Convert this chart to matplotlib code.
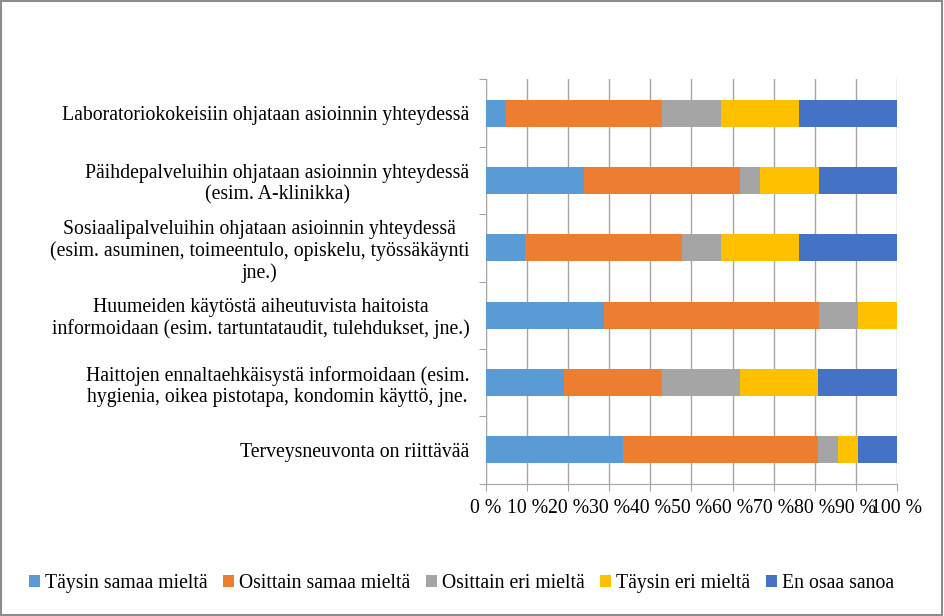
import numpy as np
import matplotlib
matplotlib.use('Agg')
import matplotlib.pyplot as plt
from matplotlib.patches import Rectangle

plt.rcParams['font.family'] = ['Liberation Serif', 'DejaVu Serif']

# categories, top to bottom
labels = [
    'Laboratoriokokeisiin ohjataan asioinnin yhteydessä',
    'Päihdepalveluihin ohjataan asioinnin yhteydessä\n(esim. A-klinikka)',
    'Sosiaalipalveluihin ohjataan asioinnin yhteydessä\n(esim. asuminen, toimeentulo, opiskelu, työssäkäynti\njne.)',
    'Huumeiden käytöstä aiheutuvista haitoista\ninformoidaan (esim. tartuntataudit, tulehdukset, jne.)',
    'Haittojen ennaltaehkäisystä informoidaan (esim.\nhygienia, oikea pistotapa, kondomin käyttö, jne.',
    'Terveysneuvonta on riittävää',
]
series = ['Täysin samaa mieltä', 'Osittain samaa mieltä', 'Osittain eri mieltä',
          'Täysin eri mieltä', 'En osaa sanoa']
# percent shares
taysin_samaa = [4.8, 23.8, 9.5, 28.6, 19.0, 33.3]
osittain_samaa = [38.1, 38.1, 38.1, 52.4, 23.8, 47.6]
osittain_eri = [14.3, 4.8, 9.5, 9.5, 19.0, 4.8]
taysin_eri = [19.0, 14.3, 19.0, 9.5, 19.1, 4.8]
en_osaa = [23.8, 19.0, 23.9, 0.0, 19.1, 9.5]
colors = ['#5B9BD5', '#ED7D31', '#A5A5A5', '#FFC000', '#4472C4']

fs = 14.2

fig = plt.figure(figsize=(9.44, 6.16), dpi=100)
ax = fig.add_axes([0.5148, 0.2149, 0.4354, 0.6561])

y = np.arange(len(labels))
left = np.zeros(len(labels))
for vals, name, c in zip([taysin_samaa, osittain_samaa, osittain_eri, taysin_eri, en_osaa],
                         series, colors):
    ax.barh(y, vals, left=left, height=0.4, color=c, label=name, zorder=3)
    left += np.array(vals)

ax.set_ylim(len(labels) - 0.5, -0.5)
ax.set_xlim(0, 100)
ax.set_xticks(np.arange(0, 101, 10))
ax.set_xticklabels(['%d %%' % v for v in range(0, 101, 10)], fontsize=fs)
ax.xaxis.grid(True, color='#A6A6A6', linewidth=1, zorder=0)

ax.set_yticks(np.arange(-0.5, len(labels), 1))
ax.set_yticklabels([])
ax.set_yticks(y, minor=True)
ax.set_yticklabels(labels, minor=True, fontsize=fs)
for t in ax.get_yticklabels(minor=True):
    t.set_multialignment('center')
    t.set_linespacing(1.15)
ax.tick_params(axis='y', which='minor', length=0, pad=12)
ax.tick_params(axis='y', which='major', length=5, color='#A6A6A6')
ax.tick_params(axis='x', length=5, color='#A6A6A6', pad=6)

for s in ['top', 'right']:
    ax.spines[s].set_visible(False)
for s in ['left', 'bottom']:
    ax.spines[s].set_color('#A6A6A6')

fig.legend(loc='center', bbox_to_anchor=(0.489, 0.053), ncol=5, frameon=False,
           fontsize=fs, handlelength=0.55, handleheight=0.55, handletextpad=0.25,
           columnspacing=0.8)

fig.patches.append(Rectangle((0.001, 0.001), 0.997, 0.997, transform=fig.transFigure,
                             fill=False, edgecolor='#8C8C8C', linewidth=1.5))

fig.savefig('out.png', dpi=100)
